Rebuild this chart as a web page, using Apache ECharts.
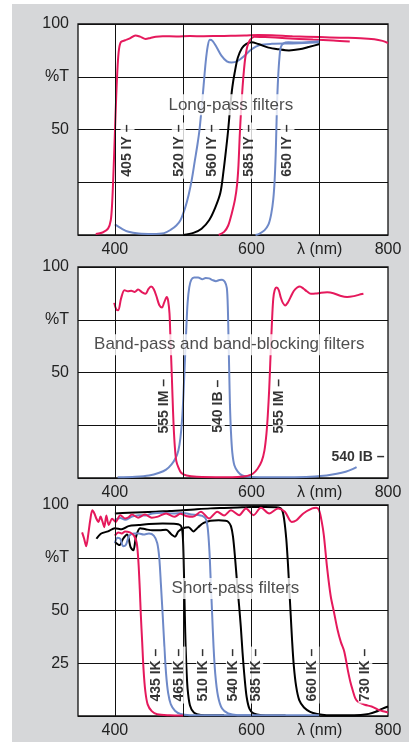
<!DOCTYPE html>
<html><head><meta charset="utf-8">
<script src="https://cdn.jsdelivr.net/npm/echarts@6/dist/echarts.min.js"></script>
<style>
html,body{margin:0;padding:0;background:#fff;}
#wrap{position:relative;width:409px;height:742px;overflow:hidden;}
#bg{position:absolute;left:12px;top:4px;right:0;bottom:0;background:#d6d7d9;}
#chart{position:absolute;left:0;top:0;width:409px;height:742px;}
</style></head>
<body><div id="wrap"><div id="bg"></div><div id="chart"></div></div>
<script>
// ---------- axis / tick data ----------
const xMin = 346, xMax = 800;
const xGridLines = [400, 500, 600, 700];
const xTickValues = [400, 600, 700, 800];
const xTickLabels = {400: '400', 600: '600', 700: 'λ (nm)', 800: '800'};
const yTickLabelsTop = {100: '100', 75: '%T', 50: '50'};
const yTickLabelsMid = {100: '100', 75: '%T', 50: '50'};
const yTickLabelsBot = {100: '100', 75: '%T', 50: '50', 25: '25'};

// ---------- Panel 1: long-pass (nm, %T) ----------
const lp405IY = [[372,0.5],[382,1.2],[390,3],[394,7],[396,15],[398,30],[400,48],[402,66],[404,80],[406,88],[409,91.5],[415,92.3],[422,93.2],[430,94.6],[437,94],[445,92.9],[452,93.4],[460,94],[470,94.2],[490,94.1],[510,94.3],[530,94.2],[550,94.3],[570,94.4],[590,94.5],[610,94.8],[630,94.7],[660,94.2],[700,93.8],[730,93.5],[760,93.3],[780,92.8],[792,92],[800,91]];
const lp520IY = [[400,5],[410,3],[420,1.5],[435,0.7],[455,0.5],[472,0.9],[482,2.5],[490,4.5],[496,7],[503,13],[508,19],[512.5,26],[517,35],[521,43],[524,50],[527,60],[530,71],[533,82],[536,89.5],[539,92.5],[543,92],[549,89],[556,85],[564,82.3],[571,81.7],[580,82.5],[590,85],[600,88],[612,90],[630,90.6],[660,90.8],[700,91.3]];
const lp560IY = [[500,0],[515,1],[527,3],[538,7],[547,13],[554.5,20],[559,30],[563,41],[566,50],[569,61],[572,70],[575.5,77],[580,84],[586,88.5],[592,90.5],[600,91.3],[610,90.5],[625,88.8],[640,88],[655,87.5],[670,88],[685,89.2],[700,90.5]];
const lp585IY = [[552,0],[560,1.5],[566,4.5],[571,10],[576,17],[579,24],[581,33],[583,48],[585,60],[587,70],[589,78],[591,84],[594,89.5],[598,92.5],[604,94],[620,93.8],[650,93.3],[690,92.6],[720,92.2],[744,91.7]];
const lp650IY = [[606,0],[612,0.7],[619,2.2],[625,5],[629,10],[632,17],[634,26],[635.5,38],[636.5,50],[637.5,62],[639,74],[641,84],[643,89],[647,90.8],[654,91.3],[670,91.2],[685,91.5],[700,91.8]];

// ---------- Panel 2: band-pass / band-blocking ----------
const bp555IM = [[399,83],[402,80],[405,79.5],[409,85],[414,89],[419,88.5],[424,88.7],[429,88.2],[434,89.3],[440,88],[445,87.3],[449,89.5],[453,90.7],[457,89.5],[461,86],[465,82],[469,80.8],[472,83],[476,85.8],[478,84],[480,78],[481.5,65],[483,52],[484.5,38],[486,25],[488,14],[490,8],[493,5],[497,2.5],[505,1.2],[520,0.6],[560,0.4],[580,0.5],[594,1],[602,2],[609,4.4],[615,8],[619,13],[622,21],[624,30],[626,42],[627.5,54],[629,66],[630.5,77],[632,85],[634,89],[637,90.3],[640,89],[643,85.5],[646,83],[649.5,81.8],[653,83],[657,85.5],[662,88.6],[667,90.3],[671,90.8],[676,89.8],[681,88.5],[687,87.3],[694,87.4],[702,87.8],[711,88],[720,87.6],[730,86.4],[740,85.8],[750,86.2],[757,86.8],[764,87.3]];
const bp540IB = [[404,0.3],[430,0.6],[450,1.2],[465,2.5],[475,4],[483,6.5],[489,9.5],[493,13],[496,19],[498.5,28],[500.5,40],[502.5,55],[504.5,70],[506.5,83],[509,90.5],[512,94],[516,95],[522,95],[528,94.2],[533,94.8],[538,94.6],[543,93.8],[548,93.3],[553,93.8],[557,94],[561,93],[564,90],[565.5,80],[566.5,65],[567.5,50],[568.5,35],[570,22],[572,12],[575,6],[580,3],[586,1.3],[595,0.6],[620,0.4],[680,0.5],[710,1.2],[725,2],[738,3],[748,4.2],[754,5.2]];

// ---------- Panel 3: short-pass ----------
const sp435IK = [[400,85.5],[405,87],[410,86.5],[415,87.5],[422,87],[428,85.5],[432,82],[434.5,73],[436.5,60],[438,48],[440,35],[442,22],[444.5,12],[448,5.5],[454,2.3],[462,0.8],[480,0.3],[500,0.2]];
const sp465IK = [[400,82],[404,84.5],[408,84],[412,80.5],[416,81],[421,85.5],[428,86.5],[435,86.5],[442,86],[450,86.5],[457,85.5],[462,82],[465,75],[467.5,62],[470,48],[472.5,33],[475,20],[478,11],[482,5.5],[488,2.5],[496,1],[510,0.4],[540,0.3],[700,0.3]];
const sp510IK = [[373,84],[380,86.5],[390,87.5],[400,89],[410,88.5],[420,90],[435,90.5],[450,91],[470,91.2],[490,91],[497,90],[499.5,85],[501,70],[502,55],[503,40],[504.5,25],[506.5,13],[510,5],[516,1.5],[526,0.5],[560,0.3]];
const sp540IK = [[400,93],[408,93.8],[415,93],[425,94.5],[435,95.2],[445,95],[455,96],[470,96.3],[485,96],[500,96.2],[512,95.5],[522,95.3],[528,94.8],[533,93.5],[536,89],[538.5,78],[540.5,63],[542.5,48],[544.5,33],[547,20],[551,9.5],[557,3.5],[566,1.2],[580,0.4],[600,0.3]];
const sp585IK = [[400,82.5],[407,81],[412,84],[418,86],[423,80],[427,78.5],[431,85],[437,89],[445,88.5],[455,88],[465,88],[475,88.3],[483,86],[488,85],[493,87.5],[500,89],[508,89.5],[515,87.5],[522,89.5],[530,91.5],[540,92.5],[552,92.8],[562,92.5],[566,92],[570,90],[573,85],[576,75],[579,63],[582,52],[584.5,42],[587,30],[590,18],[593,9],[597,3.5],[603,1.2],[615,0.4],[650,0.2]];
const sp660IK = [[400,96],[420,96.3],[440,96.6],[460,96.8],[480,97.2],[500,97.5],[520,98],[540,98.4],[560,98.6],[580,98.8],[600,99],[620,99],[640,98.8],[645,97.5],[648,93],[651,84],[653.5,72],[655.5,60],[657.5,48],[659.5,36],[662,24],[665.5,14],[670,7.5],[677,4],[686,2],[696,1],[710,0.4],[740,0.3],[760,0.5],[772,1],[782,2],[792,3.5],[800,4.5]];
const sp730IK = [[352,87],[355,84],[358,80.5],[361,86],[364,93],[367,97.5],[370,96],[373,93.5],[376,92],[379,94.5],[382,92],[384.5,89.5],[387.5,95],[391,90.5],[396,93.5],[401,92],[408,95.2],[415,93.6],[420,94.2],[425,95.5],[434,94],[444,95.5],[454,94],[463,94.5],[475,96],[487,94.4],[496,95.8],[504,94.8],[514,94.4],[526,96.8],[538,93.6],[550,96.8],[560,95],[570,97.5],[582,95.2],[592,98.4],[603,95.2],[614,98.7],[626,96],[639,98.4],[649,96.8],[659,92],[666,92.8],[676,96],[689,98.4],[695,98.7],[699,97.6],[703,92],[706,85.7],[711,69.7],[716,57],[721,49],[726,41],[731,35],[736,30.5],[741,22],[745,16],[748.5,12],[752,8.5],[756,6.8],[766,5.3],[776,4.5],[786,2.9],[796,2],[800,1.6]];

// ---------- annotation text (nm, %T, text) ----------
const lpLabels = [[418.5,40,'405 IY –'],[493.6,40,'520 IY –'],[542.7,40,'560 IY –'],[597.2,40,'585 IY –'],[652.7,40,'650 IY –']];
const bpLabels = [[471.8,34,'555 IM –'],[550.7,34,'540 IB –'],[641.3,34,'555 IM –']];
const bpSideLabels = [[756,10,'540 IB –']];
const spLabels = [[460.6,19.4,'435 IK –'],[493.4,19.4,'465 IK –'],[529.4,19.4,'510 IK –'],[572.8,19.4,'540 IK –'],[606.9,19.4,'585 IK –'],[689.5,19.4,'660 IK –'],[766.8,19.4,'730 IK –']];
const titles = [[569.8,61.7,'Long-pass filters'],[567.5,63.2,'Band-pass and band-blocking filters'],[576.5,60.4,'Short-pass filters']];

// ---------- styling ----------
const PINK = '#e5195c', BLUE = '#6e89c8', BLACK = '#000000';
const FONT = "'Liberation Sans', Arial, sans-serif";
const gridBoxes = [
  {left:78, top:24, width:310, height:211},
  {left:78, top:267, width:310, height:211},
  {left:78, top:505, width:310, height:211}
];
const yLabelMaps = [yTickLabelsTop, yTickLabelsMid, yTickLabelsBot];

const curves = [
  [0, lp405IY, PINK],[0, lp520IY, BLUE],[0, lp560IY, BLACK],[0, lp585IY, PINK],[0, lp650IY, BLUE],
  [1, bp540IB, BLUE],[1, bp555IM, PINK],
  [2, sp660IK, BLACK],[2, sp585IK, BLACK],[2, sp510IK, BLACK],[2, sp540IK, BLUE],[2, sp465IK, BLUE],[2, sp435IK, PINK],[2, sp730IK, PINK]
];

const grid = gridBoxes.map(g => Object.assign({show:true, backgroundColor:'#fff', borderColor:'#111', borderWidth:1.3, containLabel:false}, g));
const xAxis = gridBoxes.map((g,i) => ({
  type:'value', gridIndex:i, min:xMin, max:xMax,
  axisLine:{show:false}, axisTick:{show:false}, splitLine:{show:false},
  axisLabel:{
    customValues:xTickValues,
    formatter: v => xTickLabels[v] || '',
    fontSize:16, color:'#222', fontFamily:FONT, margin:7
  }
}));
const yAxis = gridBoxes.map((g,i) => ({
  type:'value', gridIndex:i, min:0, max:100, interval:25,
  axisLine:{show:false}, axisTick:{show:false},
  splitLine:{show:true, lineStyle:{color:'#111', width:1}},
  axisLabel:{formatter: v => yLabelMaps[i][v] || '', fontSize:16, color:'#222', fontFamily:FONT, margin:9}
}));

const series = [];
gridBoxes.forEach((g,i) => {
  series.push({
    type:'line', xAxisIndex:i, yAxisIndex:i, data:[], silent:true, z:1,
    markLine:{silent:true, symbol:['none','none'], label:{show:false}, animation:false,
      lineStyle:{color:'#111', width:1, type:'solid'},
      data: xGridLines.map(v => ({xAxis:v}))}
  });
});
curves.forEach(([gi, data, color]) => {
  series.push({
    type:'line', xAxisIndex:gi, yAxisIndex:gi, data:data, showSymbol:false, symbol:'none',
    smooth:0.3, lineStyle:{color:color, width:2}, z:2, silent:true
  });
});
function textSeries(gi, arr, opts) {
  return {
    type:'scatter', xAxisIndex:gi, yAxisIndex:gi, symbolSize:1, z:10, silent:true,
    itemStyle:{color:'rgba(0,0,0,0)'},
    data: arr.map(a => ({value:[a[0], a[1]], name:a[2]})),
    label: Object.assign({show:true, position:'inside', formatter:'{b}', color:'#000', fontFamily:FONT,
      backgroundColor:'#fff'}, opts)
  };
}
const vOpts = {rotate:90, fontSize:14, fontWeight:'bold', padding:[0,2]};
series.push(textSeries(0, lpLabels, vOpts));
series.push(textSeries(1, bpLabels, vOpts));
series.push(textSeries(2, spLabels, vOpts));
series.push(textSeries(1, bpSideLabels, {fontSize:14, fontWeight:'bold', padding:[1,2]}));
titles.forEach((t,i) => series.push(textSeries(i, [t], {fontSize:17, color:'#222', padding:[2,3]})));

const chart = echarts.init(document.getElementById('chart'), null, {renderer:'canvas'});
chart.setOption({animation:false, backgroundColor:'transparent', grid, xAxis, yAxis, series});
</script></body></html>
